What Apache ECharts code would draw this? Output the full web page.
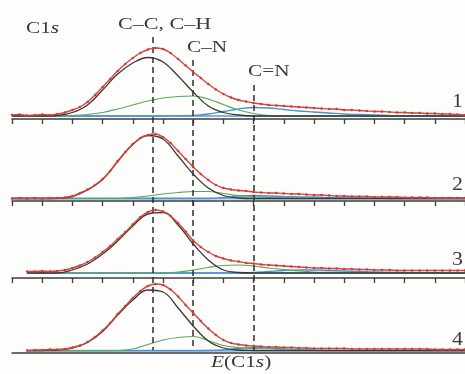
<!DOCTYPE html>
<html>
<head>
<meta charset="utf-8">
<script src="https://cdn.jsdelivr.net/npm/echarts@6/dist/echarts.min.js"></script>
<style>
html, body { margin: 0; padding: 0; background: #fdfdfc; }
#chart { width: 465px; height: 374px; }
</style>
</head>
<body>
<div id="chart"></div>
<script>
// energies of the measured points (red dots)
const redE = [280, 280.25, 280.5, 280.75, 281, 281.25, 281.5, 281.75, 282, 282.25,
  282.5, 282.75, 283, 283.25, 283.5, 283.75, 284, 284.25, 284.5, 284.75,
  285, 285.25, 285.5, 285.75, 286, 286.25, 286.5, 286.75, 287, 287.25,
  287.5, 287.75, 288, 288.25, 288.5, 288.75, 289, 289.25, 289.5, 289.75,
  290, 290.25, 290.5, 290.75, 291, 291.25, 291.5, 291.75, 292, 292.25,
  292.5, 292.75, 293, 293.25, 293.5, 293.75, 294, 294.25, 294.5, 294.75, 295];

const red1 = [4, 4.5, 3.5, 4, 4.5, 4, 5, 6.5, 9, 12, 17, 24, 32, 40, 48, 55, 61, 66, 69.5, 71,
  70, 66, 60, 53.5, 47, 41, 35, 29.5, 25, 21.5, 19, 17.5, 16, 15, 14, 13.5, 13, 12.5, 12, 11.5,
  11, 10.5, 10, 10, 9, 9, 8.5, 8, 7.5, 7.5, 7, 6.5, 6.5, 6, 6, 5.5, 5.5, 5, 5, 4.5, 4];
const red2 = [2.5, 3, 2.5, 3, 2.5, 3, 3, 3.5, 5, 8, 11.5, 16, 22, 30, 40, 49, 57, 63, 66, 67,
  64, 58, 50, 42, 34, 27, 21, 16, 13, 11.5, 10.5, 10, 9, 8.5, 8, 8, 7.5, 7, 7, 6.5,
  6, 6, 5.5, 5, 5, 4.5, 4.5, 4.5, 4, 4, 4, 4, 3.5, 3.5, 3.5, 3.5, 3, 3, 3, 3, 3];
const red3 = [null, null, 6.5, 6.5, 7, 6.5, 7, 8, 10, 12.5, 16, 20.5, 26, 32, 39, 46, 53.5, 61, 66, 68,
  66.5, 62, 55, 46.5, 37.5, 31, 26, 22, 19.5, 17.5, 16.5, 15, 14.5, 13.5, 13, 12.5, 12, 11.5, 11, 10.5,
  10, 10, 9.5, 9.5, 9, 9, 8.5, 8.5, 8, 8, 8, 7.5, 7.5, 7.5, 7.5, 7.5, 7.5, 7.5, 7.5, 7.5, 7.5];
const red4 = [null, null, 2.5, 3, 3, 3.5, 3.5, 4, 5.5, 7.5, 11, 16, 22.5, 30, 39, 47, 55, 62, 67, 69,
  68, 63.5, 56.5, 48, 40, 32, 24.5, 18, 13, 10, 8.5, 7.5, 7, 6.5, 6, 6, 5.5, 5.5, 5, 5,
  4.5, 4.5, 4.5, 4.5, 4.5, 4, 4, 4, 4, 4, 4, 4, 4, 4, 4, 4, 3.5, 3.5, 3.5, 3.5, 3.5];

// energies of the fitted components
const compE = [280, 280.5, 281, 281.5, 282, 282.5, 283, 283.5, 284, 284.5, 285, 285.5, 286, 286.5,
  287, 287.5, 288, 288.5, 289, 289.5, 290, 290.5, 291, 291.5, 292, 292.5, 293, 293.5, 294, 294.5, 295];

// C-C, C-H (black)
const cc1 = [3, 3, 3, 3.5, 6.5, 14, 29, 45, 56, 61.5, 57, 43, 27, 13, 6.5, 4,
  3, 3, 3, 3, 3, 3, 3, 3, 3, 3, 3, 3, 3, 3, 3];
const cc2 = [2.5, 2.5, 2.5, 2.7, 4.5, 11, 21.5, 39.5, 56.5, 65.5, 62, 45, 27, 13, 5.5, 3,
  2.5, 2.5, 2.5, 2.5, 2.5, 2.5, 2.5, 2.5, 2.5, 2.5, 2.5, 2.5, 2.5, 2.5, 2.5];
const cc3 = [null, 5, 5, 5, 8, 14, 24, 37, 52, 64, 65.5, 53, 34, 18, 8, 5.5,
  5, 5, 5, 5, 5, 5, 5, 5, 5, 5, 5, 5, 5, 5, 5];
const cc4 = [null, 2.3, 2.5, 3, 5, 10.5, 21.5, 38, 53, 63, 61, 45, 27, 12, 5, 3,
  2.5, 2.3, 2.3, 2.3, 2.3, 2.3, 2.3, 2.3, 2.3, 2.3, 2.3, 2.3, 2.3, 2.3, 2.3];

// C-N (green)
const cn1 = [3, 3, 3, 3, 3.5, 4.5, 6.5, 10, 14, 18, 21, 22.5, 23, 20, 14.5, 9, 5.5, 3.5, 3,
  3, 3, 3, 3, 3, 3, 3, 3, 3, 3, 3, 3];
const cn2 = [2.5, 2.5, 2.5, 2.5, 2.5, 2.5, 2.5, 2.5, 3.5, 5, 7, 8.5, 9.5, 9.5, 7.5, 5.5, 4.5, 3.5, 3, 2.7,
  2.5, 2.5, 2.5, 2.5, 2.5, 2.5, 2.5, 2.5, 2.5, 2.5, 2.5];
const cn3 = [null, 5, 5, 5, 5, 5, 5, 5, 5, 5, 5, 6, 8, 10.5, 12.5, 13, 12, 10, 8.5, 7, 6, 5.7, 5.5, 5.2,
  5, 5, 5, 5, 5, 5, 5];
const cn4 = [null, 2.3, 2.3, 2.3, 2.3, 2.3, 2.3, 2.5, 4, 8.5, 13, 15.5, 16.5, 12.5, 7.5, 5.5, 4.5, 4, 3.5, 3, 2.5,
  2.3, 2.3, 2.3, 2.3, 2.3, 2.3, 2.3, 2.3, 2.3, 2.3];

// C=N (blue)
const cdn1 = [3, 3, 3, 3, 3, 3, 3, 3, 3, 3, 3, 3.2, 3.5, 5, 7.5, 10, 11.5, 11, 9.5, 8, 7, 6, 5, 4.5, 4,
  3.5, 3.2, 3, 3, 3, 3];
const cdn2 = [2.5, 2.5, 2.5, 2.5, 2.5, 2.5, 2.5, 2.5, 2.5, 2.5, 2.5, 2.5, 2.5, 2.5, 3.5, 5, 5.5, 5, 4.5, 4.2,
  4, 3.5, 3, 2.8, 2.6, 2.5, 2.5, 2.5, 2.5, 2.5, 2.5];
const cdn3 = [null, 5, 5, 5, 5, 5, 5, 5, 5, 5, 5, 5, 5, 5, 5, 5, 5.5, 6.5, 7.5, 8, 8, 7.5, 7, 6.5, 6,
  5.8, 5.5, 5.3, 5, 5, 5];
const cdn4 = [null, 2.3, 2.3, 2.3, 2.3, 2.3, 2.3, 2.3, 2.3, 2.3, 2.3, 2.3, 2.3, 2.5, 3, 4.5, 5.5, 5, 4, 3.5, 3,
  2.7, 2.5, 2.3, 2.3, 2.3, 2.3, 2.3, 2.3, 2.3, 2.3];

const baseLevel = [3, 2.5, 5, 2.3];
const baseStart = [280, 280, 280.5, 280.5];

const peakE = [284.65, 286.0, 288.0];
const peakNames = ['C–C, C–H', 'C–N', 'C=N'];
const panelNames = ['1', '2', '3', '4'];

const reds = [red1, red2, red3, red4];
const ccs = [cc1, cc2, cc3, cc4];
const cns = [cn1, cn2, cn3, cn4];
const cdns = [cdn1, cdn2, cdn3, cdn4];

// layout
const panelTop = [44, 126, 203, 278];
const panelH = 75;
const dashTop = [37, 60, 85];
const dashBottom = 350;
const labelPos = [[118, 25, 1.3], [187, 48, 1.25], [248, 72, 1.25]];
const numberY = [102, 185, 260, 340];
const FONT = '"Liberation Serif", "Times New Roman", serif';
const TXT = '#3a3a3a';

const pairs = (xs, ys) => xs.map((x, i) => [x, ys[i]]).filter(p => p[1] != null);

const grids = [];
const xAxes = [];
const yAxes = [];
const series = [];

panelTop.forEach((top, i) => {
    grids.push({ left: 12, right: 0, top: top, height: panelH });
    xAxes.push({
        type: 'value', gridIndex: i, min: 280, max: 295, interval: 1,
        axisLine: { lineStyle: { color: '#3c3c3c', width: 1.5 } },
        axisTick: { show: i < 3, length: 5, lineStyle: { color: '#3c3c3c', width: 1.3 } },
        axisLabel: { show: false },
        splitLine: { show: false }
    });
    yAxes.push({ type: 'value', gridIndex: i, min: 0, max: 75, show: false });

    const line = (name, data, color, width, z) => ({
        name: name, type: 'line', xAxisIndex: i, yAxisIndex: i,
        data: data, smooth: 0.4, showSymbol: false, z: z,
        lineStyle: { color: color, width: width }
    });
    series.push(line('baseline', [[baseStart[i], baseLevel[i]], [295, baseLevel[i]]], '#7fb4e2', 2, 2));
    series.push(line('C=N', pairs(compE, cdns[i]), '#4f8fce', 1.3, 3));
    series.push(line('C–N', pairs(compE, cns[i]), '#5aa85c', 1.2, 4));
    series.push(line('C–C', pairs(compE, ccs[i]), '#383838', 1.3, 5));
    series.push({
        name: 'exp', type: 'line', xAxisIndex: i, yAxisIndex: i,
        data: pairs(redE, reds[i]), smooth: 0.25, z: 6,
        symbol: 'circle', symbolSize: 2.5, showSymbol: true,
        itemStyle: { color: '#d23a32' },
        lineStyle: { color: '#d6453d', width: 1.4 }
    });
});

// overlay grid for the dashed peak positions
grids.push({ left: 12, right: 0, top: 0, height: 374 });
xAxes.push({ type: 'value', gridIndex: 4, min: 280, max: 295, show: false });
yAxes.push({ type: 'value', gridIndex: 4, min: 0, max: 374, inverse: true, show: false });
series.push({
    type: 'line', xAxisIndex: 4, yAxisIndex: 4, data: [], z: 7,
    markLine: {
        silent: true, symbol: 'none', animation: false,
        label: { show: false },
        lineStyle: { color: '#2e2e2e', width: 1.5, type: [6, 4] },
        data: peakE.map((e, k) => [{ coord: [e, dashTop[k]] }, { coord: [e, dashBottom] }])
    }
});

const text = (x, y, t, size, sx, rich) => ({
    type: 'text', x: x, y: y, scaleX: sx,
    style: {
        text: t, fill: TXT, font: size + 'px ' + FONT,
        textVerticalAlign: 'middle', rich: rich
    }
});
const richItalic = {
    n: { fontFamily: FONT, fontSize: 17, color: TXT },
    i: { fontFamily: FONT, fontSize: 17, fontStyle: 'italic', color: TXT }
};

const graphic = [
    text(26, 29, '{n|C1}{i|s}', 17, 1.25, richItalic),
    text(211, 363, '{i|E}{n|(C1}{i|s}{n|)}', 17, 1.25, richItalic)
];
peakNames.forEach((n, k) => graphic.push(text(labelPos[k][0], labelPos[k][1], n, 17, labelPos[k][2])));
panelNames.forEach((n, k) => graphic.push(text(452, numberY[k], n, 19, 1.15)));

const chart = echarts.init(document.getElementById('chart'));
chart.setOption({
    animation: false,
    backgroundColor: '#fdfdfc',
    grid: grids,
    xAxis: xAxes,
    yAxis: yAxes,
    series: series,
    graphic: graphic
});
</script>
</body>
</html>
